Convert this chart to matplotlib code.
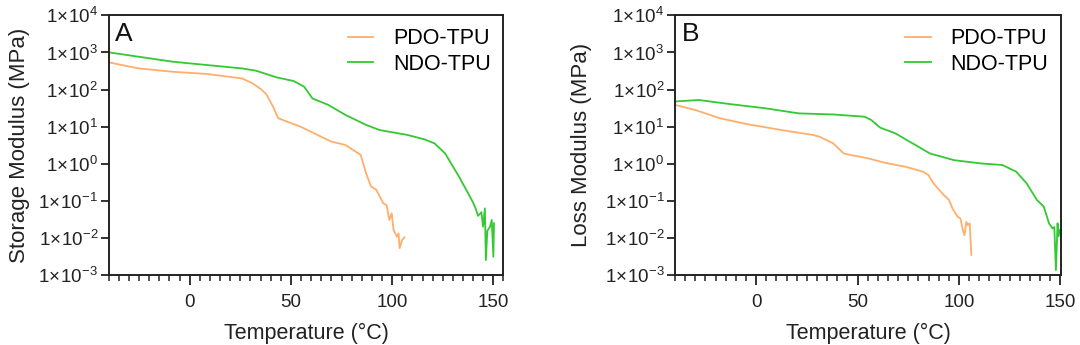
import numpy as np
import matplotlib
matplotlib.use("Agg")
import matplotlib.pyplot as plt
from matplotlib.ticker import FixedLocator, MultipleLocator, NullLocator

plt.rcParams['font.family'] = ['Liberation Sans', 'DejaVu Sans']
plt.rcParams['mathtext.fontset'] = 'custom'
plt.rcParams['mathtext.rm'] = 'Liberation Sans'
plt.rcParams['mathtext.it'] = 'Liberation Sans:italic'
plt.rcParams['mathtext.bf'] = 'Liberation Sans:bold'

# ---- data (temperature in °C, log10 of modulus in MPa) ----
storage_pdo_T = [-39.6, -25.2, -8.2, 8.8, 25.9, 31.0, 35.0, 37.8, 41.2, 43.7, 48.0, 54.8, 65.0,
                 70.0, 76.9, 82.0, 84.5, 87.1, 89.6, 92.2, 95.6, 97.3, 98.6, 99.8, 100.7,
                 102.4, 103.2, 103.7, 104.9, 106.1]
storage_pdo_logE = [2.73, 2.57, 2.48, 2.42, 2.30, 2.17, 2.02, 1.88, 1.54, 1.23, 1.14, 1.00, 0.73,
                    0.60, 0.51, 0.33, 0.24, -0.25, -0.61, -0.70, -1.06, -1.11, -1.51, -1.33,
                    -1.78, -1.96, -1.87, -2.27, -2.05, -1.98]

storage_ndo_T = [-39.6, -8.2, 25.9, 32.7, 42.9, 51.4, 56.5, 60.7, 68.4, 76.9, 87.1, 93.9, 107.5,
                 116.0, 121.0, 126.2, 133.0, 139.8, 141.5, 142.4, 144.1, 144.9, 145.8, 146.3,
                 147.0, 148.3, 149.2, 150.0, 150.3]
storage_ndo_logE = [3.00, 2.75, 2.57, 2.51, 2.33, 2.23, 2.08, 1.76, 1.59, 1.32, 1.05, 0.91, 0.78,
                    0.66, 0.55, 0.28, -0.34, -1.02, -1.24, -1.40, -1.30, -1.69, -1.20, -2.59,
                    -1.80, -1.70, -1.51, -2.50, -1.60]

loss_pdo_T = [-40.1, -29.9, -18.0, -4.4, 12.6, 27.9, 31.3, 38.1, 43.2, 46.6, 55.1, 63.6, 73.8,
              82.3, 84.9, 87.4, 92.5, 95.1, 96.8, 99.3, 100.7, 101.9, 102.7, 103.6, 104.4,
              105.3, 106.1]
loss_pdo_logE = [1.59, 1.45, 1.23, 1.07, 0.91, 0.78, 0.73, 0.55, 0.28, 0.24, 0.15, 0.03, -0.08,
                 -0.21, -0.30, -0.52, -0.84, -0.97, -1.20, -1.42, -1.47, -1.78, -1.92, -1.56,
                 -1.65, -1.60, -2.45]

loss_ndo_T = [-40.1, -28.2, -12.9, 4.1, 21.1, 38.1, 53.4, 56.8, 61.0, 68.7, 77.2, 85.7, 97.6,
              111.2, 121.4, 128.2, 133.3, 138.4, 141.8, 144.4, 146.1, 147.0, 147.8, 148.6,
              149.1, 149.8]
loss_ndo_logE = [1.68, 1.72, 1.61, 1.50, 1.36, 1.33, 1.27, 1.18, 0.98, 0.82, 0.55, 0.28, 0.10,
                 0.01, -0.03, -0.21, -0.52, -0.97, -1.15, -1.60, -1.74, -1.70, -2.86, -1.60,
                 -1.95, -1.78]

series_names = ['PDO-TPU', 'NDO-TPU']
panel_labels = ['A', 'B']
y_labels = ['Storage Modulus (MPa)', 'Loss Modulus (MPa)']
x_label = 'Temperature (°C)'
y_decades = [-3, -2, -1, 0, 1, 2, 3, 4]
x_major = [0, 50, 100, 150]

colors = ['#FFAE6B', '#33C933']
spine_c = '#222222'

fig = plt.figure(figsize=(10.8, 3.45), dpi=100)
ax_pos = [[0.1006, 0.202, 0.3656, 0.7536], [0.625, 0.202, 0.3574, 0.7536]]
xlims = [(-40, 155), (-40, 150.3)]
ylabel_pads = [6, 9]
data = [[(storage_pdo_T, storage_pdo_logE), (storage_ndo_T, storage_ndo_logE)],
        [(loss_pdo_T, loss_pdo_logE), (loss_ndo_T, loss_ndo_logE)]]

for i in range(2):
    ax = fig.add_axes(ax_pos[i])
    for j, (T, lg) in enumerate(data[i]):
        ax.plot(T, 10 ** np.array(lg), color=colors[j], lw=1.3, label=series_names[j])
    ax.set_yscale('log')
    ax.set_ylim(1e-3, 1e4)
    ax.set_xlim(*xlims[i])
    ax.yaxis.set_major_locator(FixedLocator([10.0 ** d for d in y_decades]))
    ax.yaxis.set_minor_locator(NullLocator())
    ax.set_yticklabels([r'$\mathregular{1\!\times\!10^{%d}}$' % d for d in y_decades])
    ax.xaxis.set_major_locator(FixedLocator(x_major))
    ax.xaxis.set_minor_locator(MultipleLocator(5))
    for s in ax.spines.values():
        s.set_linewidth(1.4)
        s.set_color(spine_c)
    ax.tick_params(axis='both', which='major', direction='out', length=7, width=1.3,
                   color=spine_c, labelsize=13.5, labelcolor='#222222')
    ax.tick_params(axis='x', which='minor', direction='out', length=4.5, width=1.1, color=spine_c)
    ax.tick_params(axis='x', which='major', pad=6.5)
    ax.tick_params(axis='y', which='major', length=6, pad=1.5)
    ax.set_xlabel(x_label, fontsize=15.5, color='#222222', labelpad=8.5)
    ax.set_ylabel(y_labels[i], fontsize=16, color='#222222', labelpad=ylabel_pads[i])
    ax.text(0.017, 0.975, panel_labels[i], transform=ax.transAxes, fontsize=19,
            va='top', ha='left', color='#111111')
    ax.legend(loc='upper right', frameon=False, fontsize=15.5, handlelength=1.2,
              handletextpad=0.9, labelspacing=0.2, borderaxespad=0.2,
              bbox_to_anchor=(1.0, 1.0))

fig.savefig('out.png', dpi=100)
